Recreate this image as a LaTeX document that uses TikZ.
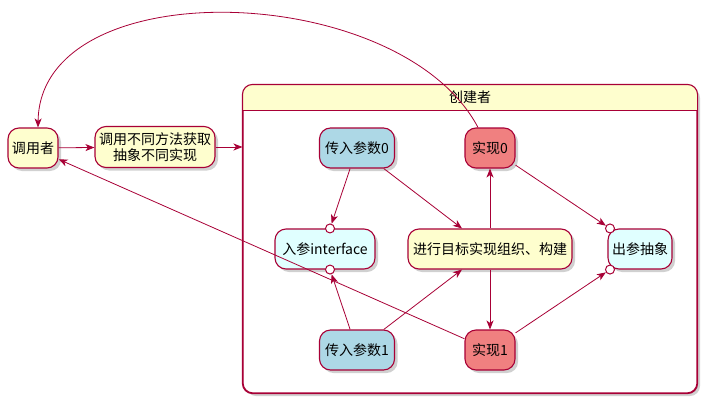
\documentclass[tikz,border=0pt]{standalone}
\usepackage{fontspec}
\setmainfont{Noto Sans CJK SC}
\usetikzlibrary{arrows.meta,calc,shadows}
\definecolor{umlred}{HTML}{A80036}
\definecolor{cream}{HTML}{FEFECE}
\definecolor{parblue}{HTML}{ADD8E6}
\definecolor{implred}{HTML}{F08080}
\definecolor{ifcyan}{HTML}{E0FFFF}
\tikzset{
  actbox/.style={rounded corners=11pt,draw=umlred,fill=cream,line width=1.1pt,
                 inner sep=0pt,align=center,font=\fontsize{14}{16.5}\selectfont,minimum height=40pt,
                 drop shadow={shadow xshift=3pt,shadow yshift=-3pt,opacity=0.3,fill=black!60}},
  parbox/.style={actbox,fill=parblue,minimum width=75pt},
  implbox/.style={actbox,fill=implred,minimum width=50pt},
  ifbox/.style={actbox,fill=ifcyan},
  port/.style={circle,draw=umlred,fill=white,line width=1pt,minimum size=9pt,inner sep=0pt},
  flow/.style={-{Stealth[length=9pt,width=7pt,inset=2.5pt]},draw=umlred,line width=0.8pt},
  pkgbox/.style={rounded corners=10pt,draw=umlred,fill=white,line width=1.1pt,
                 drop shadow={shadow xshift=3pt,shadow yshift=-3pt,opacity=0.3,fill=black!60}}
}
\begin{document}
\begin{tikzpicture}[x=1pt,y=-1pt]
    \useasboundingbox (0,0) rectangle (708,404);
    % package frame
    \node[pkgbox,minimum width=454pt,minimum height=308pt] (pkg) at (470,239) {};
    \begin{scope}
      \clip[rounded corners=10pt] (pkg.north west) rectangle (pkg.south east);
      \fill[cream] (pkg.north west) rectangle ($(pkg.north east)+(0,26)$);
    \end{scope}
    \draw[umlred,line width=1.1pt,rounded corners=10pt] (pkg.north west) rectangle (pkg.south east);
    \draw[umlred,line width=1.1pt] ($(pkg.north west)+(0,26)$) -- ($(pkg.north east)+(0,26)$);
    \node[font=\fontsize{14}{16.5}\selectfont] (pkgtitle) at ($(pkg.north)+(0,13)$) {创建者};
    % outside nodes
    \node[actbox,minimum width=50pt] (caller) at (33,148) {调用者};
    \node[actbox,minimum width=120pt,minimum height=41pt] (fetch) at (155,147) {调用不同方法获取\\抽象不同实现};
    % inside nodes
    \node[parbox] (par0) at (357,148) {传入参数0};
    \node[implbox] (impl0) at (490,148) {实现0};
    \node[ifbox,minimum width=100pt] (inif) at (325,249) {入参interface};
    \node[actbox,minimum width=164pt] (build) at (490,249) {进行目标实现组织、构建};
    \node[ifbox,minimum width=64pt] (outabs) at (640,249) {出参抽象};
    \node[parbox] (par1) at (357,350) {传入参数1};
    \node[implbox] (impl1) at (490,350) {实现1};
    % ports
    \node[port] (inTop) at ($(inif.north)+(5,0)$) {};
    \node[port] (inBot) at ($(inif.south)+(5,0)$) {};
    \node[port] (outTop) at ($(outabs.north)+(-30,0)$) {};
    \node[port] (outBot) at ($(outabs.south)+(-30,0)$) {};
    \coordinate (buildIn) at ($(build.north)+(-28,0)$);
    \coordinate (buildIn1) at ($(build.south)+(-28,0)$);
    % connectors
    \draw[flow] (caller) -- (fetch);
    \draw[flow] (fetch.east) -- (fetch.east -| pkg.west);
    \draw[flow] (par0) -- (inTop);
    \draw[flow] (par0) -- (buildIn);
    \draw[flow] (par1) -- (inBot);
    \draw[flow] (par1) -- (buildIn1);
    \draw[flow] (build) -- (impl0);
    \draw[flow] (build) -- (impl1);
    \draw[flow] (impl0) -- (outTop);
    \draw[flow] (impl1) -- (outBot);
    \draw[flow] (impl1) -- (caller);
    \draw[flow] ($(impl0.north)+(-12,0)$) .. controls (400,-20) and (40,-30) .. ($(caller.north)+(5,0)$);
\end{tikzpicture}
\end{document}
